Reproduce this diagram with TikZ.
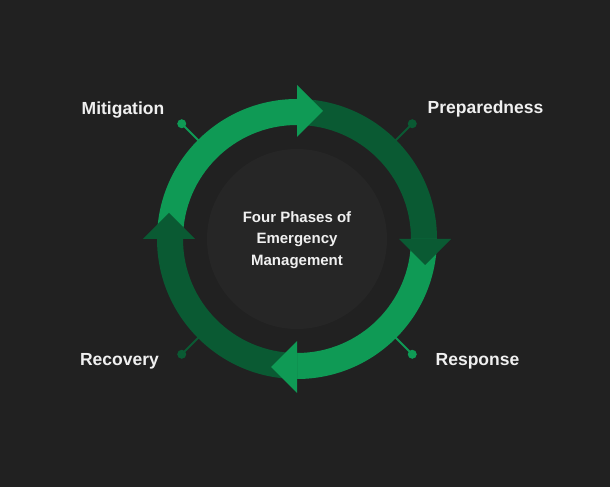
\documentclass[tikz,border=0pt]{standalone}
\usepackage{fontspec}
\setmainfont{Liberation Sans}
\definecolor{bg}{HTML}{212121}
\definecolor{disk}{HTML}{262626}
\definecolor{lightg}{HTML}{0F9A55}
\definecolor{darkg}{HTML}{0A5A33}
\definecolor{txt}{HTML}{F0F0F0}
\begin{document}
\begin{tikzpicture}[x=1pt,y=1pt,
  phase/.style={text=txt,font=\fontsize{17.5}{22}\selectfont\bfseries,inner sep=0pt},
  title/.style={text=txt,font=\fontsize{15}{21.5}\selectfont\bfseries,align=center,inner sep=0pt},
  dot/.style={circle,inner sep=0pt,minimum size=9pt},
  lead/.style={line width=1.8pt}]
\fill[bg] (0,0) rectangle (610,487);
\useasboundingbox (0,0) rectangle (610,487);
\coordinate (C) at (297,248);
\fill[disk] (C) circle (90);
% ring segments
\fill[lightg] (157,248) arc (180:90:140) -- (297,362) arc (90:180:114) -- cycle;
\fill[darkg] (297,388) arc (90:0:140) -- (411,248) arc (0:90:114) -- cycle;
\fill[lightg] (437,248) arc (0:-90:140) -- (297,134) arc (-90:0:114) -- cycle;
\fill[darkg] (297,108) arc (-90:-180:140) -- (183,248) arc (180:270:114) -- cycle;
% arrowheads
\fill[lightg] (297,350) -- (297,402) -- (323,376) -- cycle;
\fill[darkg] (399,248) -- (451,248) -- (425,222) -- cycle;
\fill[lightg] (297,146) -- (297,94) -- (271,120) -- cycle;
\fill[darkg] (195,248) -- (143,248) -- (169,274) -- cycle;
% ring anchor points
\coordinate (rm) at ([shift={(135:139)}]C);
\coordinate (rp) at ([shift={(45:139)}]C);
\coordinate (rr) at ([shift={(-45:139)}]C);
\coordinate (rc) at ([shift={(-135:139)}]C);
% dots
\node[dot,fill=lightg] (dm) at ([shift={(135:163)}]C) {};
\node[dot,fill=darkg] (dp) at ([shift={(45:163)}]C) {};
\node[dot,fill=lightg] (dr) at ([shift={(-45:163)}]C) {};
\node[dot,fill=darkg] (dc) at ([shift={(-135:163)}]C) {};
\draw[lead,lightg] (rm) -- (dm.center);
\draw[lead,darkg] (rp) -- (dp.center);
\draw[lead,lightg] (rr) -- (dr.center);
\draw[lead,darkg] (rc) -- (dc.center);
% labels
\node[phase] (mit) at (123,377) {Mitigation};
\node[phase] (pre) at (485.5,378) {Preparedness};
\node[phase] (res) at (477.5,126) {Response};
\node[phase] (rec) at (119.5,126) {Recovery};
\node[title] (center) at (297,247) {Four Phases of\\Emergency\\Management};
\end{tikzpicture}
\end{document}
